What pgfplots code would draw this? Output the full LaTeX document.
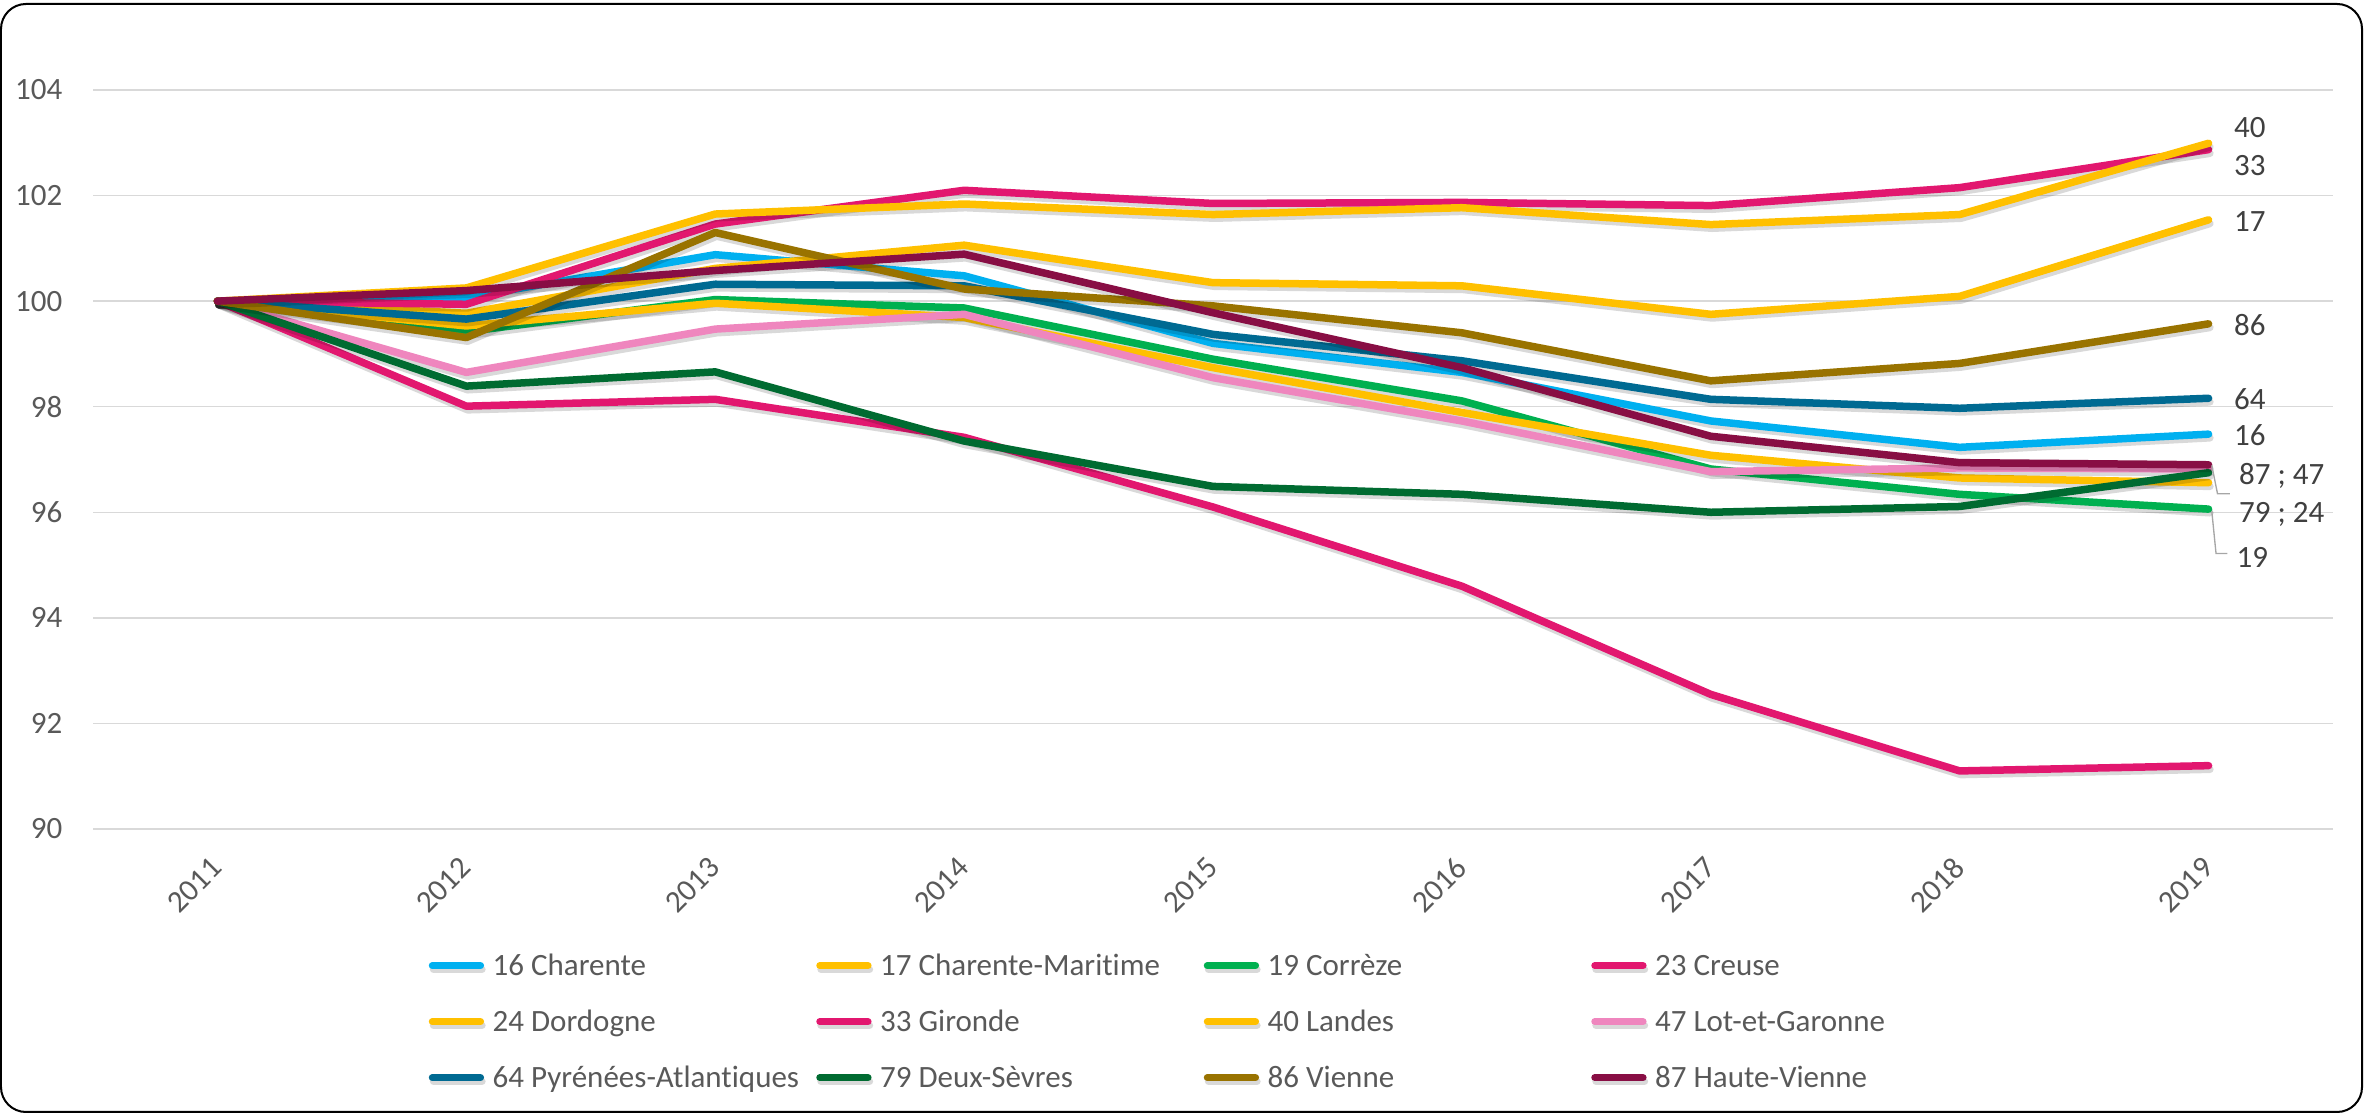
\documentclass[border=0pt]{standalone}
\usepackage{pgfplots}
\pgfplotsset{compat=1.18}
\usepackage{pgfplotstable}
\usepackage{fontspec}
\setmainfont{Carlito}[Ligatures=NoCommon]

\definecolor{c16}{HTML}{00B0F0}
\definecolor{c17}{HTML}{FFC000}
\definecolor{c19}{HTML}{00B050}
\definecolor{c23}{HTML}{E2176F}
\definecolor{c24}{HTML}{FFC000}
\definecolor{c33}{HTML}{E2176F}
\definecolor{c40}{HTML}{FFC000}
\definecolor{c47}{HTML}{EF86BE}
\definecolor{c64}{HTML}{006A92}
\definecolor{c79}{HTML}{006B31}
\definecolor{c86}{HTML}{997300}
\definecolor{c87}{HTML}{880E44}
\definecolor{gridgray}{HTML}{D9D9D9}
\definecolor{ticktext}{HTML}{595959}
\definecolor{labeltext}{HTML}{404040}

% indice base 100 en 2011
\pgfplotstableread{
x d16 d17 d19 d23 d24 d33 d40 d47 d64 d79 d86 d87
0 100.00 100.00 100.00 100.00 100.00 100.00 100.00 100.00 100.00 100.00 100.00 100.00
1 100.07 99.77 99.42 98.01 99.53 99.94 100.25 98.65 99.66 98.39 99.31 100.20
2 100.88 100.62 100.03 98.14 99.96 101.46 101.65 99.47 100.32 98.66 101.30 100.58
3 100.48 101.06 99.87 97.42 99.69 102.10 101.84 99.75 100.29 97.35 100.23 100.89
4 99.20 100.35 98.90 96.10 98.74 101.85 101.64 98.55 99.37 96.49 99.91 99.78
5 98.65 100.29 98.11 94.60 97.89 101.87 101.77 97.73 98.87 96.34 99.40 98.74
6 97.73 99.75 96.82 92.55 97.08 101.81 101.45 96.77 98.14 96.00 98.49 97.44
7 97.23 100.09 96.34 91.10 96.65 102.15 101.64 96.84 97.97 96.11 98.82 96.94
8 97.48 101.54 96.06 91.20 96.56 102.87 102.99 96.82 98.16 96.75 99.57 96.90
}\datatable

\begin{document}
\begin{tikzpicture}
\useasboundingbox (0,0) rectangle (710.7pt,333.9pt);
\draw[black, line width=0.6pt, rounded corners=7.5pt] (0.3pt,0.3pt) rectangle (708.6pt,332.7pt);
\begin{axis}[
    at={(27.9pt,85.2pt)}, anchor=south west,
    scale only axis, width=672pt, height=221.7pt,
    xmin=-0.5, xmax=8.5, ymin=90, ymax=104,
    xtick={0,...,8},
    xticklabels={2011,2012,2013,2014,2015,2016,2017,2018,2019},
    ytick={90,92,...,104},
    ymajorgrids,
    grid style={gridgray, line width=0.45pt},
    axis line style={draw=none},
    major tick length=0pt,
    clip=false,
    /pgf/number format/assume math mode=true,
    tick label style={font=\fontsize{9.3}{11}\selectfont, text=ticktext},
    yticklabel style={anchor=east, inner sep=0pt},
    yticklabel shift=9pt,
    xticklabel style={rotate=45, anchor=east, inner sep=0pt},
    xticklabel shift=10pt,
    every axis plot/.append style={line width=2.25pt, line cap=round, line join=round,
        preaction={draw=black, opacity=0.15, transform canvas={xshift=0.4pt, yshift=-1.1pt}}},
    legend columns=4,
    legend image code/.code={
        \path (0pt,0pt) (18pt,0pt);
        \draw[#1, line width=2.1pt] (1pt,3pt) -- (15.5pt,3pt);
    },
    legend style={at={(0.148,-0.166)}, anchor=north west, draw=none, fill=none,
        inner sep=0pt, column sep=0pt, row sep=7.5pt,
        font=\fontsize{9.3}{11}\selectfont, text=ticktext,
        nodes={inner sep=0pt, text height=7pt, text depth=2.3pt, anchor=base west}},
    legend cell align=left,
]
\addplot[c16] table[x=x, y=d16] {\datatable};
\addplot[c17] table[x=x, y=d17] {\datatable};
\addplot[c19] table[x=x, y=d19] {\datatable};
\addplot[c23] table[x=x, y=d23] {\datatable};
\addplot[c24] table[x=x, y=d24] {\datatable};
\addplot[c33] table[x=x, y=d33] {\datatable};
\addplot[c40] table[x=x, y=d40] {\datatable};
\addplot[c47] table[x=x, y=d47] {\datatable};
\addplot[c64] table[x=x, y=d64] {\datatable};
\addplot[c79] table[x=x, y=d79] {\datatable};
\addplot[c86] table[x=x, y=d86] {\datatable};
\addplot[c87] table[x=x, y=d87] {\datatable};
\legend{
    \makebox[96pt][l]{16 Charente}, \makebox[96pt][l]{17 Charente-Maritime},
    \makebox[96pt][l]{19 Corrèze}, \makebox[96pt][l]{23 Creuse},
    \makebox[96pt][l]{24 Dordogne}, \makebox[96pt][l]{33 Gironde},
    \makebox[96pt][l]{40 Landes}, \makebox[96pt][l]{47 Lot-et-Garonne},
    \makebox[96pt][l]{64 Pyrénées-Atlantiques}, \makebox[96pt][l]{79 Deux-Sèvres},
    \makebox[96pt][l]{86 Vienne}, \makebox[96pt][l]{87 Haute-Vienne}}

% etiquettes en fin de courbe
\begin{scope}[every node/.style={anchor=west, inner sep=0pt, text=labeltext, font=\fontsize{9.3}{11}\selectfont}]
\node at (axis cs:8.1,103.29) {40};
\node at (axis cs:8.1,102.57) {33};
\node at (axis cs:8.1,101.51) {17};
\node at (axis cs:8.1,99.54) {86};
\node at (axis cs:8.1,98.14) {64};
\node at (axis cs:8.1,97.46) {16};
\node at (axis cs:8.12,96.68) {87 ; 47};
\node at (axis cs:8.12,95.96) {79 ; 24};
\node at (axis cs:8.11,95.14) {19};
\end{scope}
\draw[gray!70, line width=0.4pt] (axis cs:8.013,96.89) -- (axis cs:8.036,96.35) -- (axis cs:8.086,96.35);
\draw[gray!70, line width=0.4pt] (axis cs:8.013,96.02) -- (axis cs:8.03,95.22) -- (axis cs:8.076,95.22);
\end{axis}
\end{tikzpicture}
\end{document}
